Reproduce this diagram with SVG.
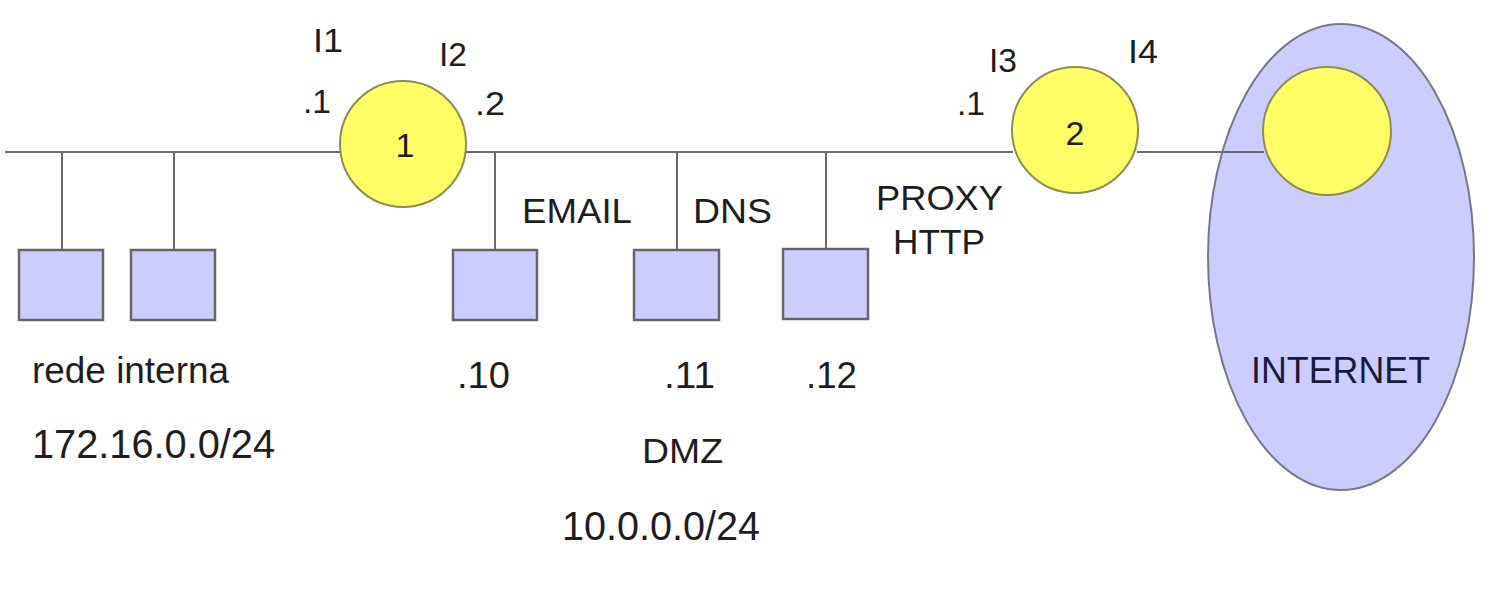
<svg xmlns="http://www.w3.org/2000/svg" width="1504" height="596" viewBox="0 0 1504 596">
<style>
.t{font-family:"Liberation Sans",Arial,sans-serif;fill:#1e1e1e}
.w{stroke:#6a6a6a;stroke-width:2;fill:none}
.r{fill:#ffff66;stroke:#8c8c55;stroke-width:2}
.b{fill:#ccccff;stroke:#666;stroke-width:2.5}
</style>
<rect width="1504" height="596" fill="#fff"/>
<g id="internet">
<ellipse cx="1341" cy="257" rx="133" ry="233" fill="#ccccff" stroke="#77778a" stroke-width="2"/>
<text class="t" x="1251" y="383" font-size="36" textLength="179" lengthAdjust="spacingAndGlyphs" style="fill:#1a1a3a">INTERNET</text>
</g>
<g id="connectors">
<line class="w" x1="5" y1="152" x2="340" y2="152"/>
<line class="w" x1="466" y1="152" x2="1013" y2="152"/>
<line class="w" x1="1137" y1="152" x2="1264" y2="152"/>
<line class="w" x1="62" y1="152" x2="62" y2="250"/>
<line class="w" x1="174" y1="152" x2="174" y2="250"/>
<line class="w" x1="495" y1="152" x2="495" y2="250"/>
<line class="w" x1="677" y1="152" x2="677" y2="250"/>
<line class="w" x1="826" y1="152" x2="826" y2="249"/>
</g>
<g id="router1">
<circle class="r" cx="403" cy="144" r="63"/>
<text class="t" x="405" y="157" font-size="34" text-anchor="middle">1</text>
<text class="t" x="313" y="52" font-size="33" textLength="30" lengthAdjust="spacingAndGlyphs">I1</text>
<text class="t" x="439" y="66" font-size="33" textLength="28" lengthAdjust="spacingAndGlyphs">I2</text>
<text class="t" x="303" y="113" font-size="34" textLength="28" lengthAdjust="spacingAndGlyphs">.1</text>
<text class="t" x="475" y="115" font-size="34" textLength="30" lengthAdjust="spacingAndGlyphs">.2</text>
</g>
<g id="router2">
<circle class="r" cx="1075" cy="130" r="63"/>
<text class="t" x="1075" y="145" font-size="34" text-anchor="middle">2</text>
<text class="t" x="989" y="72" font-size="33" textLength="28" lengthAdjust="spacingAndGlyphs">I3</text>
<text class="t" x="1128" y="63" font-size="33" textLength="30" lengthAdjust="spacingAndGlyphs">I4</text>
<text class="t" x="957" y="115" font-size="34" textLength="28" lengthAdjust="spacingAndGlyphs">.1</text>
</g>
<g id="internet-router">
<circle class="r" cx="1327" cy="131" r="64"/>
</g>
<g id="host-int1">
<rect class="b" x="19" y="250" width="84" height="70"/>
</g>
<g id="host-int2">
<rect class="b" x="131" y="250" width="84" height="70"/>
</g>
<g id="host-email">
<rect class="b" x="453" y="250" width="84" height="70"/>
<text class="t" x="522" y="223" font-size="35" textLength="110" lengthAdjust="spacingAndGlyphs">EMAIL</text>
<text class="t" x="457" y="388" font-size="37" textLength="53" lengthAdjust="spacingAndGlyphs">.10</text>
</g>
<g id="host-dns">
<rect class="b" x="634" y="250" width="85" height="70"/>
<text class="t" x="693" y="223" font-size="35" textLength="79" lengthAdjust="spacingAndGlyphs">DNS</text>
<text class="t" x="664" y="388" font-size="37" textLength="51" lengthAdjust="spacingAndGlyphs">.11</text>
</g>
<g id="host-proxy">
<rect class="b" x="783" y="249" width="85" height="70"/>
<text class="t" x="876" y="210" font-size="35" textLength="127" lengthAdjust="spacingAndGlyphs">PROXY</text>
<text class="t" x="893" y="254" font-size="35" textLength="92" lengthAdjust="spacingAndGlyphs">HTTP</text>
<text class="t" x="806" y="388" font-size="37" textLength="51" lengthAdjust="spacingAndGlyphs">.12</text>
</g>
<g id="labels">
<text class="t" x="32" y="383" font-size="36" textLength="197" lengthAdjust="spacingAndGlyphs">rede interna</text>
<text class="t" x="32" y="458" font-size="40" textLength="243" lengthAdjust="spacingAndGlyphs">172.16.0.0/24</text>
<text class="t" x="642" y="463" font-size="35" textLength="81" lengthAdjust="spacingAndGlyphs">DMZ</text>
<text class="t" x="562" y="540" font-size="40" textLength="198" lengthAdjust="spacingAndGlyphs">10.0.0.0/24</text>
</g>
</svg>
